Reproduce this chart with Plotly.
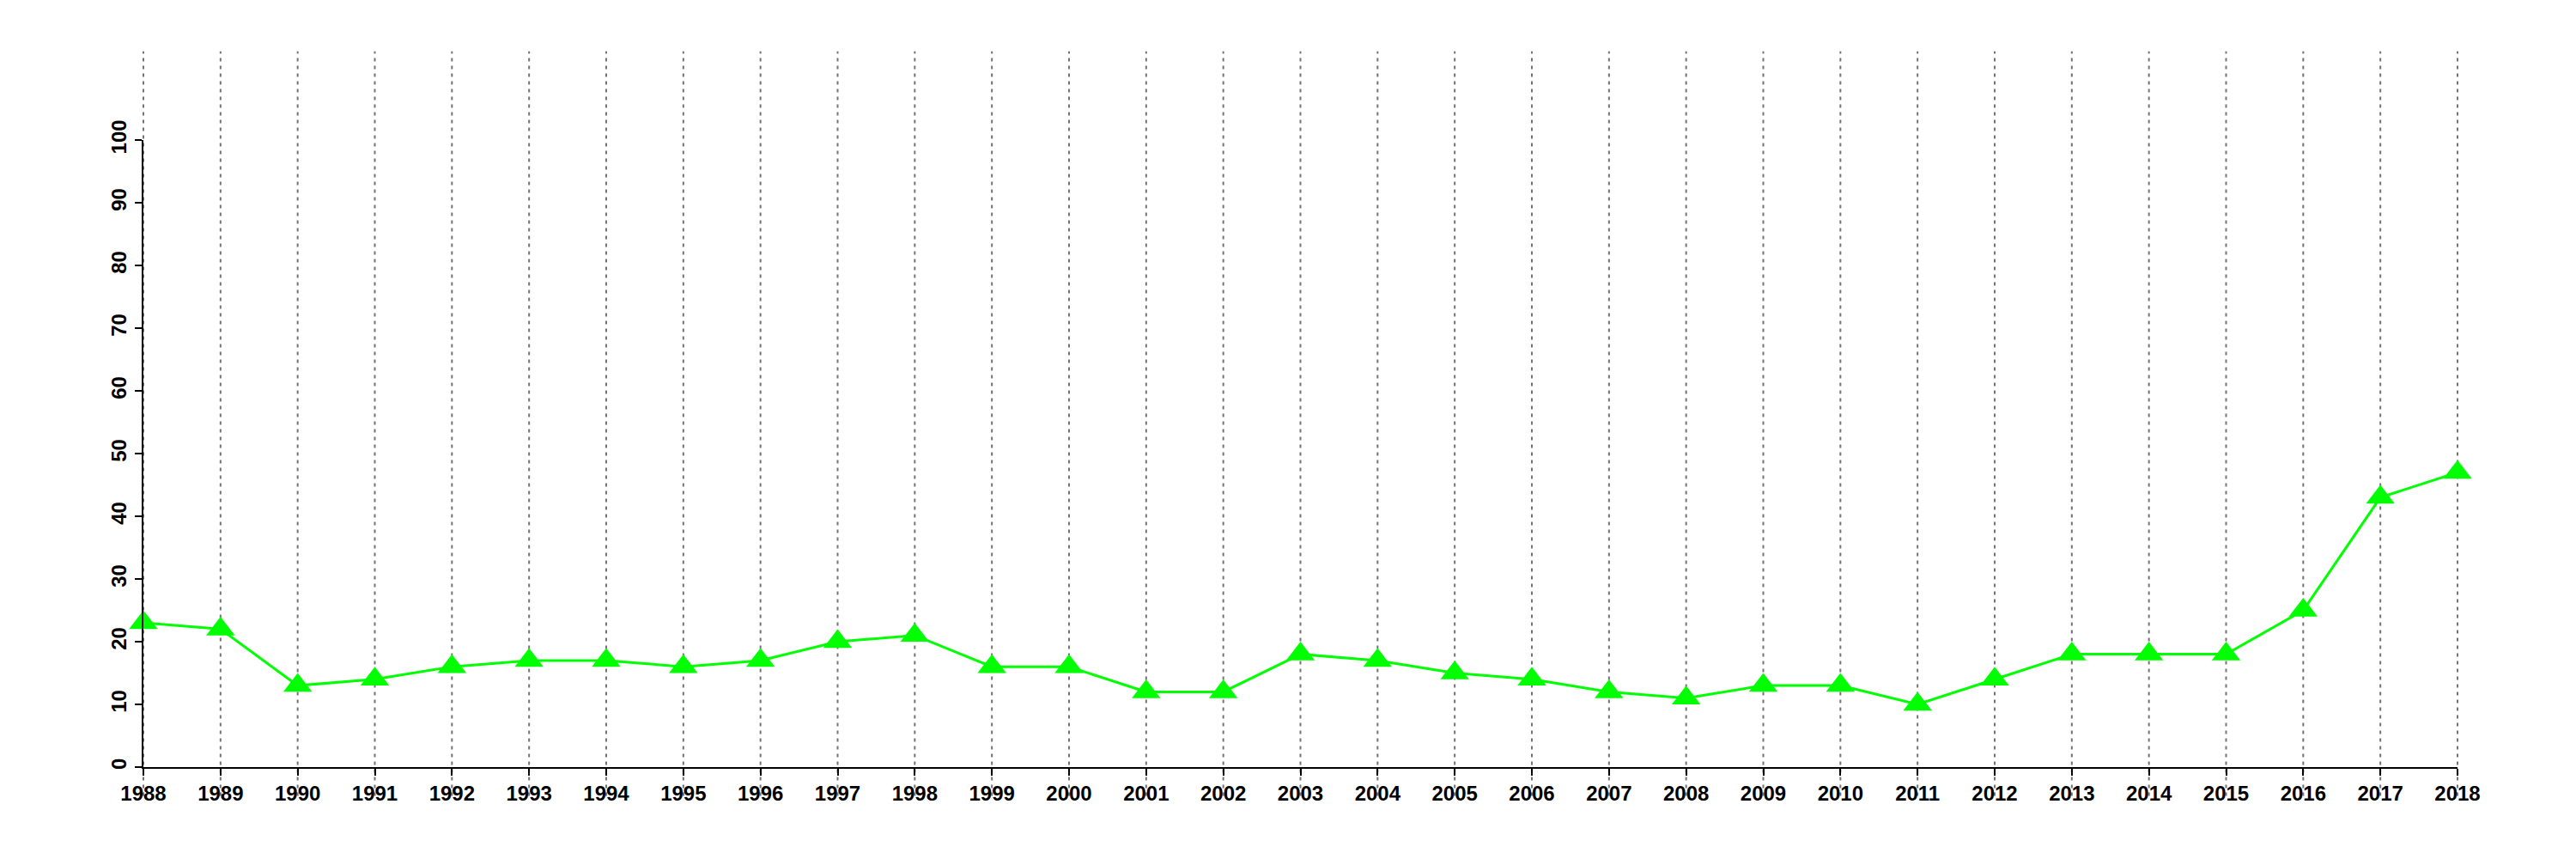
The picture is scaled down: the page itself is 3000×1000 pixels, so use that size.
import plotly.graph_objects as go

years = list(range(1988, 2019))
values = [23, 22, 13, 14, 16, 17, 17, 16, 17, 20, 21, 16, 16, 12, 12, 18,
          17, 15, 14, 12, 11, 13, 13, 10, 14, 18, 18, 18, 25, 43, 47]
y_ticks = list(range(0, 101, 10))

x_range = [years[0], years[-1]]
y_range = [0, 100]

fig = go.Figure()
fig.add_trace(go.Scatter(
    x=years, y=values, mode="lines+markers",
    line=dict(color="#00FF00", width=3),
    marker=dict(symbol="triangle-up", size=29, color="#00FF00"),
    cliponaxis=False, showlegend=False,
))

# vertical dotted grid lines extending beyond the plotting region
shapes = []
for yr in years:
    fx = (yr - x_range[0]) / (x_range[1] - x_range[0])
    shapes.append(dict(type="line", xref="paper", yref="paper",
                       x0=fx, x1=fx, y0=-0.046, y1=1.1415,
                       line=dict(color="#747474", width=2, dash="4px,5px"),
                       layer="below"))
fig.update_layout(shapes=shapes)

tickfont = dict(family="Liberation Sans, Arial, sans-serif", size=24,
                color="black", weight="bold")
fig.update_xaxes(range=x_range, tickvals=years, ticktext=[str(y) for y in years],
                 showgrid=False, zeroline=False, showline=True, linecolor="black",
                 linewidth=2, ticks="outside", ticklen=8, tickwidth=2,
                 tickcolor="black", tickfont=tickfont)
fig.update_yaxes(range=y_range, tickvals=y_ticks, showgrid=False, zeroline=False,
                 showline=True, linecolor="black", linewidth=2, ticks="outside",
                 ticklen=8, tickwidth=2, tickcolor="black", tickangle=-90,
                 tickfont=tickfont)
fig.update_layout(width=3000, height=1000, plot_bgcolor="white",
                  paper_bgcolor="white",
                  margin=dict(l=159, r=146, t=155, b=115, autoexpand=False))

fig.write_html("out.html")
